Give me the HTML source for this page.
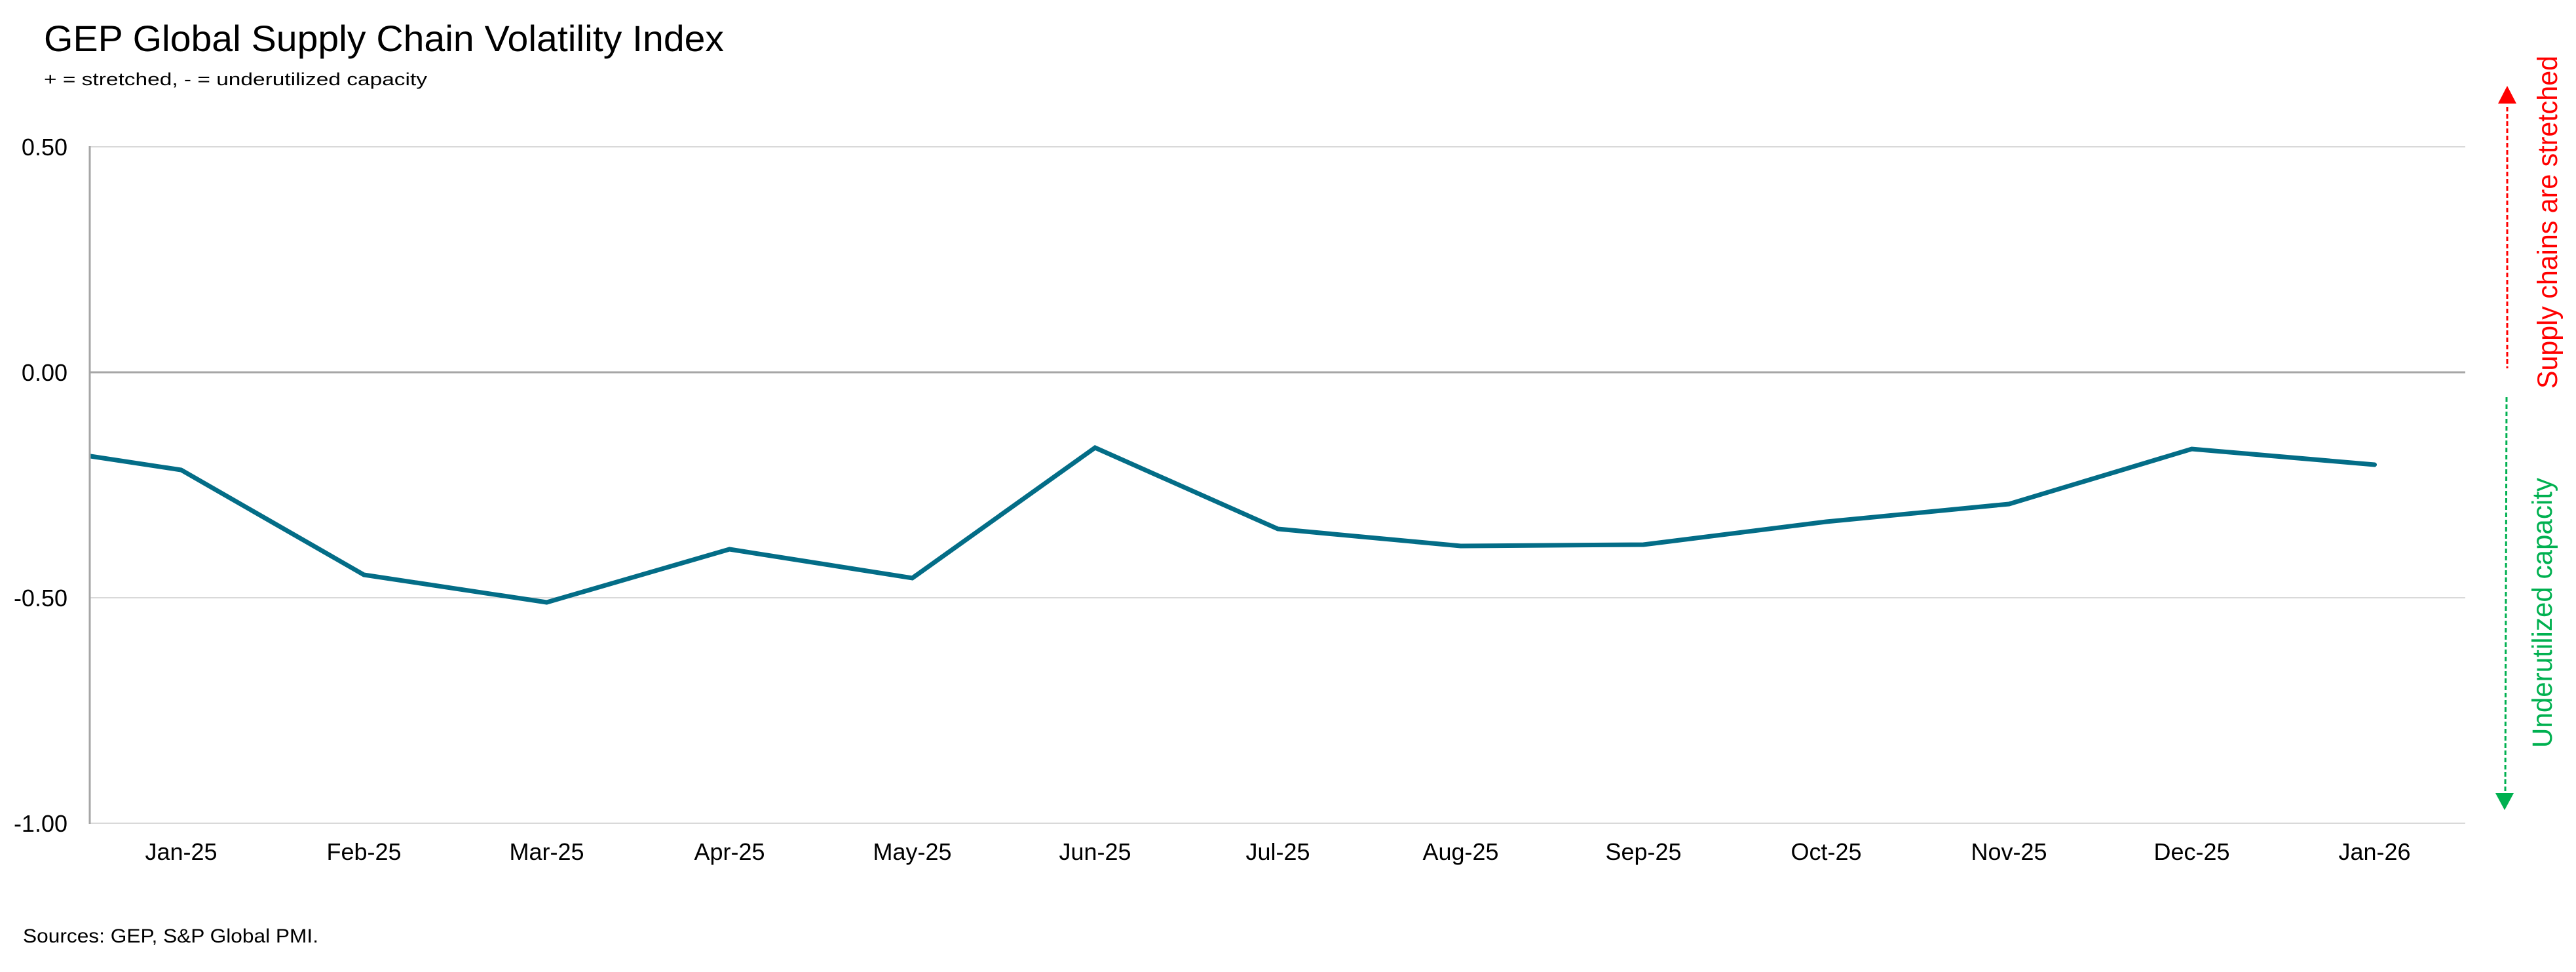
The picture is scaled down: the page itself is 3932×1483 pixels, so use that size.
<!DOCTYPE html>
<html>
<head>
<meta charset="utf-8">
<style>
  html, body { margin: 0; padding: 0; background: #ffffff; }
  body { width: 3932px; height: 1483px; overflow: hidden; }
  svg { display: block; }
  text { font-family: "Liberation Sans", Arial, sans-serif; }
</style>
</head>
<body>
<svg width="3932" height="1483" viewBox="0 0 3932 1483" xmlns="http://www.w3.org/2000/svg">
  <rect x="0" y="0" width="3932" height="1483" fill="#ffffff"/>

  <!-- Title & subtitle -->
  <text x="67" y="78" font-size="56" fill="#000000" textLength="1038" lengthAdjust="spacingAndGlyphs">GEP Global Supply Chain Volatility Index</text>
  <text x="67" y="130" font-size="27" fill="#000000" textLength="585" lengthAdjust="spacingAndGlyphs">+ = stretched, - = underutilized capacity</text>

  <!-- Gridlines -->
  <line x1="137" y1="224" x2="3763" y2="224" stroke="#d9d9d9" stroke-width="2"/>
  <line x1="137" y1="912" x2="3763" y2="912" stroke="#d9d9d9" stroke-width="2"/>
  <line x1="137" y1="1256" x2="3763" y2="1256" stroke="#d9d9d9" stroke-width="2"/>
  <!-- Zero line -->
  <line x1="137" y1="568" x2="3763" y2="568" stroke="#a6a6a6" stroke-width="3"/>
  <!-- Vertical axis -->
  <line x1="137" y1="223" x2="137" y2="1257" stroke="#a6a6a6" stroke-width="3"/>

  <!-- Y labels -->
  <g font-size="36" fill="#000000" text-anchor="end">
    <text x="103" y="237">0.50</text>
    <text x="103" y="581">0.00</text>
    <text x="103" y="925">-0.50</text>
    <text x="103" y="1269">-1.00</text>
  </g>

  <!-- X labels -->
  <g font-size="36" fill="#000000" text-anchor="middle">
    <text x="276.5" y="1312">Jan-25</text>
    <text x="555.5" y="1312">Feb-25</text>
    <text x="834.5" y="1312">Mar-25</text>
    <text x="1113.5" y="1312">Apr-25</text>
    <text x="1392.5" y="1312">May-25</text>
    <text x="1671.5" y="1312">Jun-25</text>
    <text x="1950.5" y="1312">Jul-25</text>
    <text x="2229.5" y="1312">Aug-25</text>
    <text x="2508.5" y="1312">Sep-25</text>
    <text x="2787.5" y="1312">Oct-25</text>
    <text x="3066.5" y="1312">Nov-25</text>
    <text x="3345.5" y="1312">Dec-25</text>
    <text x="3624.5" y="1312">Jan-26</text>
  </g>

  <!-- Data line -->
  <polyline fill="none" stroke="#036d87" stroke-width="7" stroke-linejoin="miter" stroke-miterlimit="4" stroke-linecap="round"
    points="138,696 276.5,717 555.5,877 834.5,919 1113.5,838 1392.5,882 1671.5,683 1950.5,807 2229.5,833 2508.5,831 2787.5,796 3066.5,769 3345.5,685 3624.5,709"/>
  <!-- square off left end at axis -->
  <rect x="125" y="685" width="11" height="22" fill="#ffffff"/>
  <line x1="137" y1="680" x2="137" y2="712" stroke="#a6a6a6" stroke-width="3"/>

  <!-- Right annotation: red arrow up -->
  <line x1="3827" y1="163" x2="3827" y2="562" stroke="#ff0000" stroke-width="3" stroke-dasharray="7 4"/>
  <polygon points="3827,131 3813,158 3841,158" fill="#ff0000"/>
  <text transform="translate(3903,593) rotate(-90)" font-size="43" fill="#ff0000" textLength="508" lengthAdjust="spacingAndGlyphs">Supply chains are stretched</text>

  <!-- Right annotation: green arrow down -->
  <line x1="3826" y1="606" x2="3824" y2="1210" stroke="#00b050" stroke-width="3" stroke-dasharray="7 4"/>
  <polygon points="3809,1210 3837,1210 3823,1236" fill="#00b050"/>
  <text transform="translate(3895,1141) rotate(-90)" font-size="43" fill="#00b050" textLength="412" lengthAdjust="spacingAndGlyphs">Underutilized capacity</text>

  <!-- Sources -->
  <text x="35" y="1438" font-size="30" fill="#000000" textLength="451" lengthAdjust="spacingAndGlyphs">Sources: GEP, S&amp;P Global PMI.</text>
</svg>
</body>
</html>
